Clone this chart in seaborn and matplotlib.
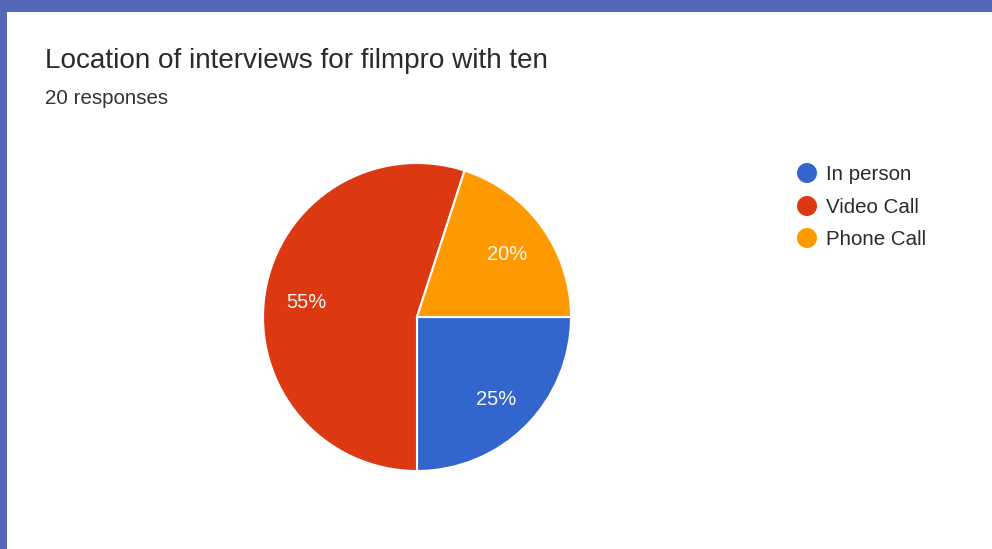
import matplotlib
matplotlib.use("Agg")
import matplotlib.pyplot as plt
from matplotlib.transforms import IdentityTransform
import seaborn as sns
from matplotlib.patches import Rectangle, Circle

categories = ["In person", "Video Call", "Phone Call"]
shares = [25, 55, 20]
colors = ["#3366cc", "#dc3912", "#ff9900"]
title = "Location of interviews for filmpro with ten"
subtitle = "20 responses"

sns.set_theme(style="white")
plt.rcParams["font.family"] = ["Liberation Sans", "DejaVu Sans"]

W, H = 992, 549
fig = plt.figure(figsize=(W / 100, H / 100), dpi=100)
fig.patch.set_facecolor("#5567b8")
fig.patches.append(Rectangle((7 / W, 0), 1 - 7 / W, (H - 12) / H,
                             transform=fig.transFigure, facecolor="white",
                             edgecolor="none", zorder=-10))

cx, cy, r = 417, 317, 154
ax = fig.add_axes([(cx - r) / W, (H - cy - r) / H, 2 * r / W, 2 * r / H])
wedges, texts, autotexts = ax.pie(
    shares, colors=colors, startangle=0, counterclock=False,
    autopct=lambda p: f"{p:.0f}%", pctdistance=0.725,
    wedgeprops=dict(edgecolor="white", linewidth=1.5),
    textprops=dict(color="#f7f7f7", fontsize=14.5))
for t in autotexts:
    x, y = t.get_position()
    t.set_position((x, y - 0.02))
ax.set_xlim(-1, 1)
ax.set_ylim(-1, 1)
ax.set_aspect("equal")
ax.axis("off")

fig.text(45 / W, 1 - 61 / H, title, fontsize=20.1, color="#2b2b2b", va="center", ha="left")
fig.text(45 / W, 1 - 99 / H, subtitle, fontsize=14.8, color="#333333", va="center", ha="left")

ys = [173, 206, 238]
for name, col, y in zip(categories, colors, ys):
    # legend markers drawn in pixel space so they stay round
    fig.add_artist(Circle((807, H - y), 10, transform=IdentityTransform(),
                          facecolor=col, edgecolor="none"))
    fig.text(826 / W, 1 - (y + 1.5) / H, name, fontsize=14.8, color="#2b2b2b", va="center", ha="left")

fig.savefig("out.png", dpi=100, facecolor=fig.get_facecolor())
